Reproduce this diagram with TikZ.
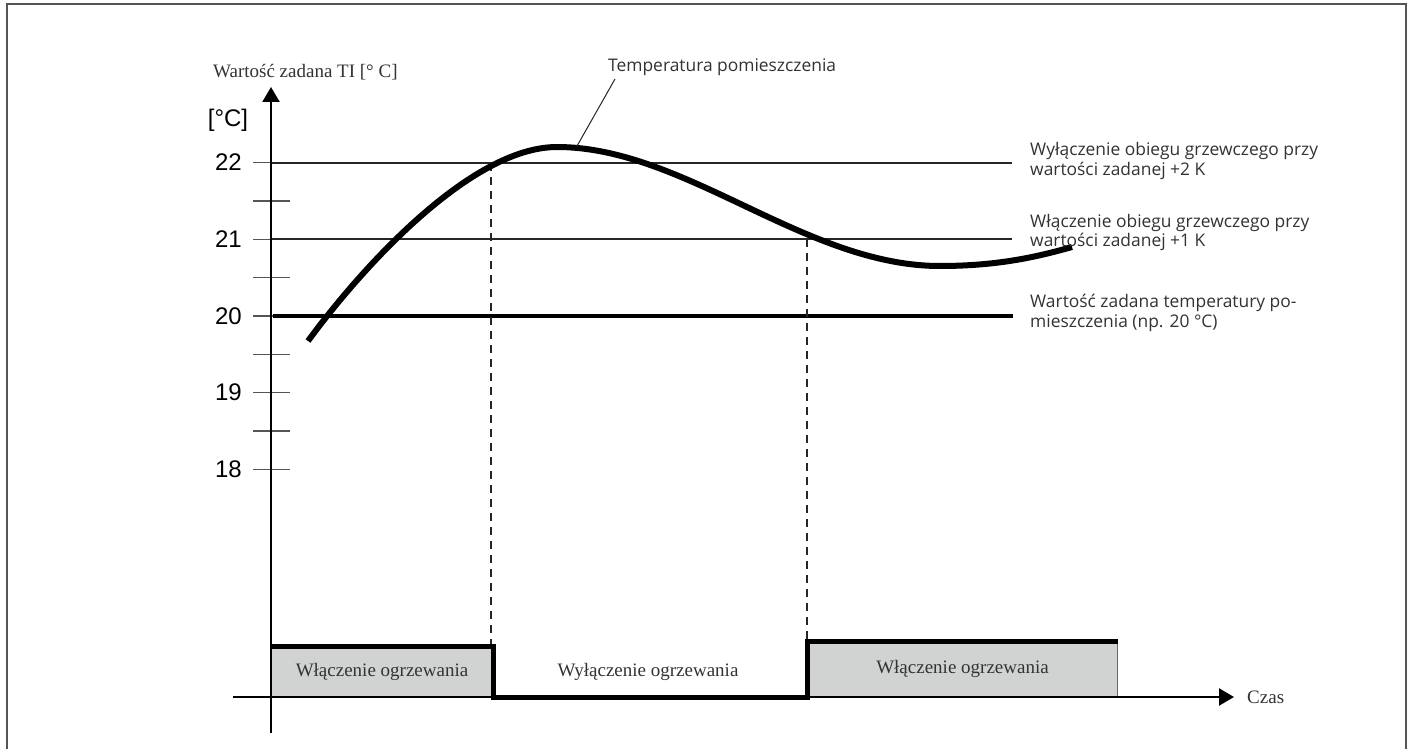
\documentclass[tikz,border=0pt]{standalone}
\usepackage{fontspec}
\setmainfont{Liberation Serif}
\newfontfamily\lblfont{Open Sans}
\newfontfamily\numfont{Liberation Sans}
\usetikzlibrary{arrows.meta}
\definecolor{boxgray}{HTML}{D1D2D2}
\definecolor{txtgray}{HTML}{333333}
\definecolor{framegray}{HTML}{555555}
\definecolor{tickgray}{HTML}{555555}
\begin{document}
\begin{tikzpicture}[x=1pt,y=-1pt,
  axisline/.style={line width=2.2pt,black,-{Triangle[length=15pt,width=17pt]}},
  tickline/.style={line width=1.4pt,tickgray},
  setline/.style={line width=1.8pt,black!85},
  baseline20/.style={line width=4.5pt,black},
  curveline/.style={line width=6pt,black},
  dashline/.style={line width=1.4pt,black!85,dash pattern=on 8pt off 6pt},
  stepline/.style={line width=5pt,black,miter limit=2},
  onbox/.style={fill=boxgray,draw=black!60,line width=1pt,inner sep=0pt,anchor=south west,
    font=\fontsize{19}{22}\selectfont,text=txtgray},
  serif/.style={font=\fontsize{19}{22}\selectfont,text=txtgray,inner sep=0pt},
  lbl/.style={font=\lblfont\fontsize{17.4}{19.5}\selectfont,text=txtgray,align=left,inner sep=0pt,anchor=west},
  num/.style={font=\numfont\fontsize{24}{27}\selectfont,text=black,inner sep=0pt,anchor=east}]
\useasboundingbox (0,0) rectangle (1413,749);
\fill[white] (0,0) rectangle (1413,749);
\draw[framegray,line width=2pt] (7,749) -- (7,4) -- (1406,4) -- (1406,749);

% boxes
\node[onbox,minimum width=221pt,minimum height=50pt] (on1) at (271,697) {Włączenie ogrzewania};
\node[onbox,minimum width=310pt,minimum height=55pt] (on2) at (807,697) {Włączenie ogrzewania};
\node[serif] (off) at (648,672) {Wyłączenie ogrzewania};

% ticks
\foreach \yy in {162.6,201,239.3,277.6,316,354.3,392.6,431,469.3}
  \draw[tickline] (253,\yy) -- (290,\yy);

% numbers
\node[num] (n22) at (242,162.6) {22};
\node[num] (n21) at (242,239.3) {21};
\node[num] (n20) at (242,316) {20};
\node[num] (n19) at (242,392.6) {19};
\node[num] (n18) at (242,469.3) {18};
\node[font=\numfont\fontsize{24}{27}\selectfont,inner sep=0pt] (unit) at (228,120) {[°C]};
\node[serif,anchor=west] (title) at (213,72) {Wartość zadana TI [° C]};

% set lines
\coordinate (l22a) at (272,162.6); \coordinate (l22b) at (1012,162.6);
\coordinate (l21a) at (272,239.3); \coordinate (l21b) at (1012,239.3);
\coordinate (l20a) at (273,316);   \coordinate (l20b) at (1013,316);
\draw[setline] (l22a) -- (l22b);
\draw[setline] (l21a) -- (l21b);
\draw[baseline20] (l20a) -- (l20b);

% dashed lines
\coordinate (d1t) at (491,163); \coordinate (d2t) at (807,239);
\draw[dashline] (d1t) -- (d1t |- on1.north);
\draw[dashline] (d2t) -- (d2t |- on2.north);

% step line
\draw[stepline] (on1.north west) -- (on1.north east) -- (on1.south east) -- (on2.south west) -- (on2.north west) -- (on2.north east);

% axes
\coordinate (xs) at (233,697); \coordinate (xe) at (1234,697);
\coordinate (ys) at (271,733); \coordinate (ye) at (271,87);
\draw[axisline] (xs) -- (xe);
\draw[axisline] (ys) -- (ye);
\node[serif,anchor=west] (czas) at (1247,697) {Czas};

% curve
\coordinate (c0) at (308,341);
\coordinate (cpk) at (557,147);
\coordinate (cmn) at (940,266);
\coordinate (cend) at (1072,247);
\draw[curveline] (c0) .. controls (360,270) and (470,147) .. (cpk)
  .. controls (685,147) and (805,266) .. (cmn)
  .. controls (1000,266) and (1040,256) .. (cend);

% leader
\node[lbl] (tp) at (608,67) {Temperatura pomieszczenia};
\coordinate (lp) at (577,146);
\draw[line width=1pt,black!85] (lp) -- (615,79);

% right labels
\node[lbl] (r22) at (1030,161) {Wyłączenie obiegu grzewczego przy\\wartości zadanej +2 K};
\node[lbl] (r21) at (1030,232.5) {Włączenie obiegu grzewczego przy\\wartości zadanej +1 K};
\node[lbl] (r20) at (1030,313) {Wartość zadana temperatury po-\\mieszczenia (np. 20 °C)};
\end{tikzpicture}
\end{document}
